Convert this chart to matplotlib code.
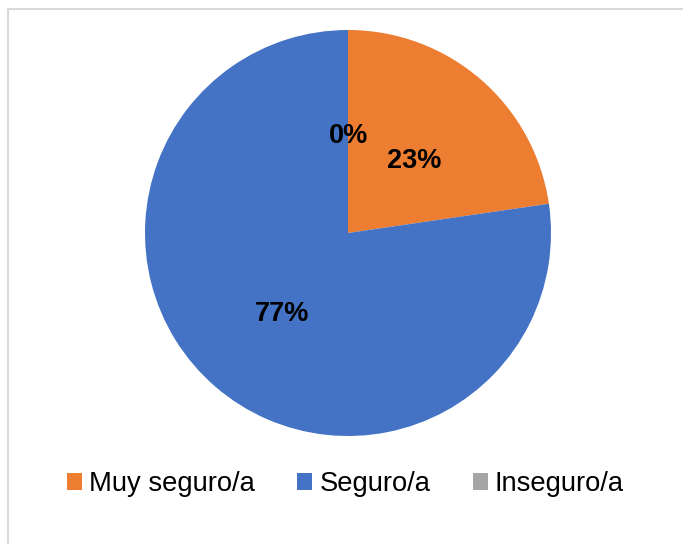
import matplotlib
matplotlib.use("Agg")
import matplotlib.pyplot as plt
from matplotlib.patches import Patch, Rectangle
from matplotlib.transforms import offset_copy

categories = ["Muy seguro/a", "Seguro/a", "Inseguro/a"]
values = [22.7, 77.3, 0.0]
colors = ["#ED7D31", "#4472C4", "#A5A5A5"]

plt.rcParams['font.family'] = ['Liberation Sans', 'DejaVu Sans']

W, H = 683, 544
fig = plt.figure(figsize=(W / 100, H / 100), dpi=100)
fig.patch.set_facecolor("white")

# outer frame
fig.patches.append(Rectangle((8 / W, -0.05), 1.2, 1 - 9 / H + 0.05,
                             transform=fig.transFigure, fill=False,
                             edgecolor="#D9D9D9", linewidth=1.5))

cx, cy, r = 348, 233, 203
ax = fig.add_axes([(cx - r) / W, (H - cy - r) / H, 2 * r / W, 2 * r / H])
wedges, texts, autotexts = ax.pie(values, colors=colors, startangle=90,
                                  counterclock=False, autopct='%1.0f%%',
                                  pctdistance=0.5, radius=1,
                                  wedgeprops=dict(linewidth=0),
                                  textprops=dict(fontsize=19.5, fontweight='bold', color='black'))
ax.set_xlim(-1, 1)
ax.set_ylim(-1, 1)
ax.set_aspect('equal')
ax.axis('off')
for t in autotexts:
    t.set_transform(offset_copy(ax.transData, fig=fig, x=0, y=-4.5, units='dots'))

handles = [Patch(facecolor=c, edgecolor='none') for c in colors]
fig.legend(handles, categories, loc='center', bbox_to_anchor=(345.5 / W, 1 - 484 / H),
           ncol=3, frameon=False, fontsize=19.7, handlelength=0.55, handleheight=0.55,
           handletextpad=0.25, columnspacing=1.55, borderpad=0, borderaxespad=0)

fig.savefig("out.png", dpi=100)
